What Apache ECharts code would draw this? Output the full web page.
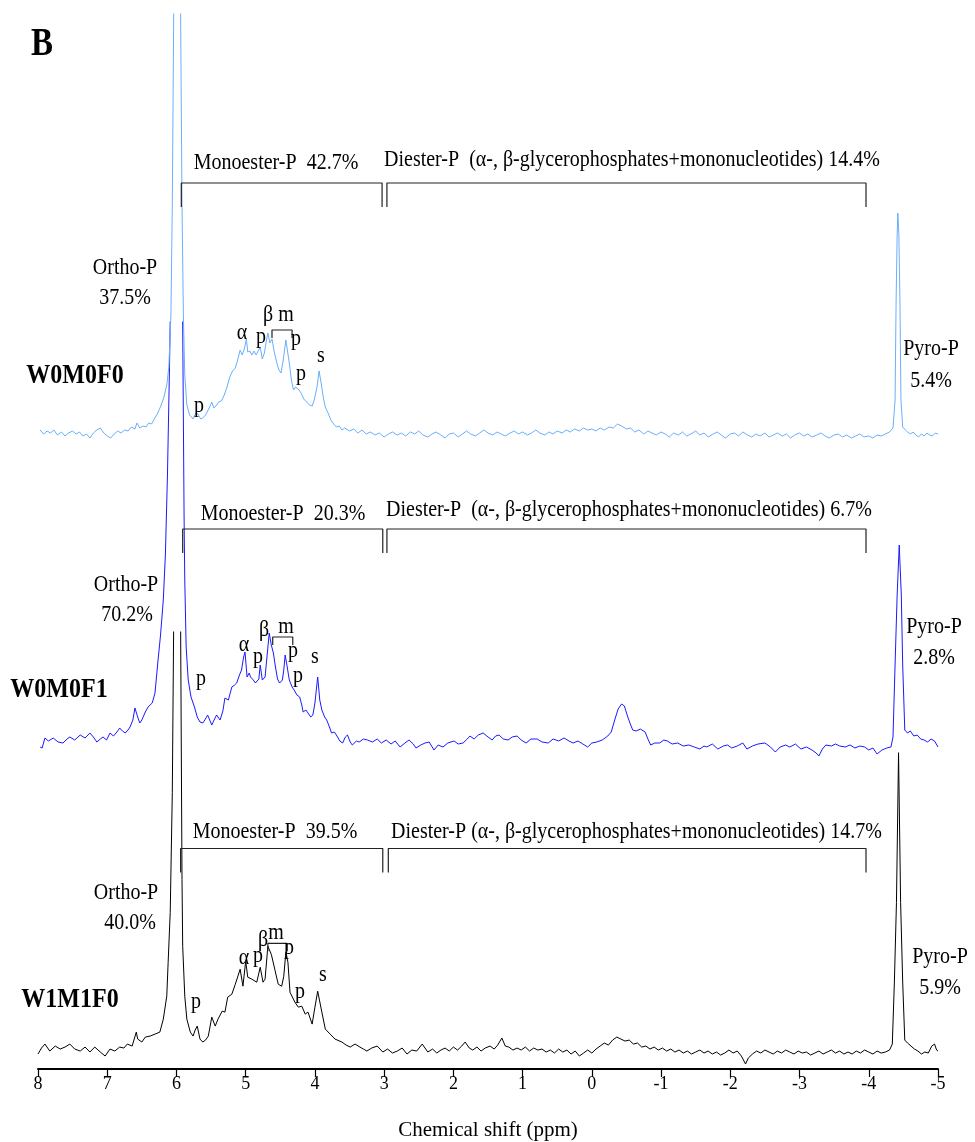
<!DOCTYPE html>
<html>
<head>
<meta charset="utf-8">
<title>31P NMR spectra</title>
<script src="https://cdn.jsdelivr.net/npm/echarts@6.0.0/dist/echarts.min.js"></script>
<style>
  html, body { margin: 0; padding: 0; background: #fff; }
  #chart { width: 975px; height: 1142px; }
</style>
</head>
<body>
<div id="chart"></div>
<script>
// ---- Data: chemical shift (ppm) vs. signal intensity above each baseline ----
const samples = ['W0M0F0', 'W0M0F1', 'W1M1F0'];
const orthoPct = ['37.5%', '70.2%', '40.0%'];
const monoPct = ['42.7%', '20.3%', '39.5%'];
const diesterPct = ['14.4%', '6.7%', '14.7%'];
const pyroPct = ['5.4%', '2.8%', '5.9%'];
const xTickValues = [8, 7, 6, 5, 4, 3, 2, 1, 0, -1, -2, -3, -4, -5];

// integration regions (ppm)
const monoesterRange = [[5.93, 3.03], [5.91, 3.02], [5.94, 3.02]];
const diesterRange = [[2.96, -3.96], [2.96, -3.96], [2.94, -3.96]];
const mononucleotideRange = [[4.62, 4.33], [4.61, 4.32], [4.68, 4.40]];

const spectrumW0M0F0 = [
  [7.97,5],[7.92,1],[7.87,4],[7.82,2],[7.77,5],[7.72,0],[7.66,3],[7.61,-1],[7.56,2],[7.50,4],
  [7.45,1],[7.40,3],[7.35,-1],[7.30,1],[7.25,-3],[7.20,2],[7.15,5],[7.10,7],[7.05,2],[7.00,-1],
  [6.95,-3],[6.90,1],[6.85,4],[6.80,2],[6.75,5],[6.70,4],[6.65,8],[6.60,6],[6.57,12],[6.53,7],
  [6.48,9],[6.44,8],[6.40,12],[6.36,11],[6.32,16],[6.27,22],[6.22,30],[6.18,38],[6.14,50],[6.11,68],
  [6.08,120],[6.06,230],[6.04,420],[5.99,1000],[5.94,420],[5.92,230],[5.90,120],[5.88,60],[5.85,30],
  [5.81,20],[5.76,16],[5.72,22],[5.69,21],[5.65,16],[5.62,17],[5.58,20],[5.55,24],[5.52,28],[5.49,33],
  [5.46,27],[5.43,29],[5.39,33],[5.35,34],[5.31,40],[5.27,48],[5.23,58],[5.19,64],[5.15,67],[5.12,74],
  [5.08,85],[5.05,80],[5.02,86],[4.99,96],[4.97,83],[4.94,84],[4.91,80],[4.88,84],[4.85,80],[4.82,84],
  [4.79,88],[4.76,76],[4.73,82],[4.70,95],[4.68,102],[4.65,92],[4.62,96],[4.59,84],[4.55,72],[4.52,65],
  [4.49,62],[4.46,74],[4.42,95],[4.40,93],[4.37,72],[4.34,55],[4.31,45],[4.28,48],[4.26,50],[4.23,45],
  [4.20,42],[4.16,36],[4.12,33],[4.08,30],[4.04,29],[4.01,35],[3.97,48],[3.94,64],[3.91,52],[3.88,38],
  [3.85,28],[3.81,22],[3.77,15],[3.73,11],[3.69,8],[3.65,9],[3.61,5],
  [3.57,7],[3.50,4],[3.44,6],[3.38,2],[3.32,5],[3.26,1],[3.20,3],[3.13,0],[3.07,2],[3.00,-2],
  [2.94,1],[2.88,3],[2.81,0],[2.75,2],[2.69,-1],[2.62,3],[2.56,1],[2.50,4],[2.44,0],[2.37,-2],
  [2.31,1],[2.25,3],[2.18,0],[2.12,-3],[2.06,1],[2.00,2],[1.93,-2],[1.87,1],[1.81,4],[1.75,1],
  [1.68,-1],[1.62,2],[1.56,5],[1.50,2],[1.43,0],[1.37,3],[1.31,1],[1.25,-1],[1.18,2],[1.12,4],
  [1.06,1],[1.00,3],[0.93,0],[0.87,2],[0.81,5],[0.75,2],[0.68,0],[0.62,3],[0.56,1],[0.50,4],
  [0.43,2],[0.37,5],[0.31,3],[0.25,6],[0.18,4],[0.12,7],[0.06,5],[0.00,6],[-0.06,4],[-0.12,7],
  [-0.18,5],[-0.25,8],[-0.31,7],[-0.37,11],[-0.43,9],[-0.50,6],[-0.56,7],[-0.62,3],[-0.68,5],[-0.75,1],
  [-0.81,4],[-0.87,2],[-0.93,0],[-1.00,3],[-1.06,1],[-1.12,-2],[-1.18,2],[-1.25,0],[-1.31,3],[-1.37,-1],
  [-1.43,1],[-1.50,4],[-1.56,0],[-1.62,2],[-1.68,-2],[-1.75,1],[-1.81,3],[-1.87,0],[-1.93,-3],[-2.00,1],
  [-2.06,2],[-2.12,-1],[-2.18,3],[-2.25,0],[-2.31,-2],[-2.37,1],[-2.43,-1],[-2.50,2],[-2.56,-2],[-2.62,0],
  [-2.68,2],[-2.75,-1],[-2.81,1],[-2.87,-3],[-2.93,0],[-3.00,2],[-3.06,-1],[-3.12,1],[-3.18,-2],[-3.25,0],
  [-3.31,2],[-3.37,-1],[-3.43,-3],[-3.50,0],[-3.56,1],[-3.62,-2],[-3.68,0],[-3.75,-3],[-3.81,-1],[-3.87,1],
  [-3.93,-2],[-4.00,-1],[-4.06,-3],[-4.12,0],[-4.18,-1],[-4.24,1],[-4.30,3],[-4.35,7],[-4.38,35],[-4.395,135],
  [-4.41,200],[-4.42,222],[-4.435,200],[-4.45,135],[-4.465,35],[-4.49,8],[-4.53,5],[-4.56,3],[-4.60,1],[-4.64,3],
  [-4.68,0],[-4.72,-2],[-4.76,1],[-4.80,-1],[-4.84,2],[-4.88,0],[-4.92,-1],[-4.96,2],[-5.00,1]
];

const spectrumW0M0F1 = [
  [7.97,-2],[7.94,-3],[7.90,7],[7.85,4],[7.78,7],[7.71,3],[7.64,2],[7.58,6],[7.54,8],[7.47,5],
  [7.39,10],[7.32,7],[7.25,12],[7.20,8],[7.15,3],[7.10,6],[7.06,8],[7.01,5],[6.96,12],[6.91,9],
  [6.86,13],[6.82,17],[6.78,14],[6.74,12],[6.70,15],[6.67,18],[6.63,25],[6.60,37],[6.56,28],[6.53,22],
  [6.50,25],[6.45,33],[6.41,38],[6.35,42],[6.31,52],[6.27,82],[6.23,110],[6.19,145],[6.16,190],[6.13,270],
  [6.10,380],[6.07,520],[6.03,800],[6.00,1300],[5.97,800],[5.94,560],[5.91,420],[5.89,230],[5.88,165],[5.86,98],
  [5.83,65],[5.79,48],[5.74,38],[5.70,28],[5.66,23],[5.62,22],[5.59,25],[5.55,30],[5.53,32],[5.49,20],
  [5.45,26],[5.42,30],[5.37,25],[5.33,34],[5.30,47],[5.25,45],[5.20,58],[5.16,60],[5.13,62],[5.09,70],
  [5.06,75],[5.03,88],[5.01,93],[4.98,68],[4.95,72],[4.93,68],[4.89,65],[4.86,62],[4.84,60],[4.81,66],
  [4.79,80],[4.76,65],[4.72,68],[4.69,90],[4.66,112],[4.63,100],[4.60,92],[4.57,78],[4.54,66],[4.51,62],
  [4.47,65],[4.45,75],[4.43,90],[4.40,78],[4.37,65],[4.33,58],[4.30,55],[4.26,50],[4.24,52],[4.22,48],
  [4.19,40],[4.17,33],[4.13,35],[4.10,32],[4.06,28],[4.03,30],[4.00,42],[3.96,68],[3.93,45],[3.90,35],
  [3.86,28],[3.83,25],[3.79,18],[3.76,12],[3.72,13],[3.69,10],[3.64,4],[3.60,2],[3.56,8],[3.53,10],
  [3.49,3],[3.46,0],[3.40,4],[3.36,3],[3.30,6],[3.24,5],
  [3.17,3],[3.10,6],[3.04,2],[2.97,5],[2.90,1],[2.84,4],[2.77,-2],[2.70,2],[2.64,5],[2.58,1],
  [2.54,-3],[2.47,0],[2.41,2],[2.35,3],[2.28,-5],[2.22,0],[2.15,-2],[2.08,2],[1.99,4],[1.93,1],
  [1.86,2],[1.80,6],[1.76,9],[1.70,6],[1.64,10],[1.57,12],[1.50,8],[1.44,5],[1.39,9],[1.34,10],
  [1.28,6],[1.21,5],[1.15,8],[1.08,9],[1.02,5],[0.95,2],[0.88,6],[0.79,6],[0.72,3],[0.63,2],
  [0.56,6],[0.48,4],[0.40,7],[0.33,4],[0.27,2],[0.20,4],[0.13,1],[0.06,-2],[0.00,2],[-0.07,3],
  [-0.15,5],[-0.23,9],[-0.28,13],[-0.33,25],[-0.38,36],[-0.43,41],[-0.47,39],[-0.51,30],[-0.55,22],[-0.59,15],
  [-0.64,14],[-0.70,16],[-0.77,13],[-0.81,6],[-0.85,0],[-0.91,2],[-0.98,2],[-1.04,5],[-1.09,4],[-1.16,1],
  [-1.24,2],[-1.32,-1],[-1.40,0],[-1.48,-2],[-1.56,-4],[-1.62,-1],[-1.66,-2],[-1.74,1],[-1.82,-4],[-1.90,-1],
  [-1.96,0],[-2.02,-3],[-2.10,-1],[-2.18,2],[-2.24,-4],[-2.32,-1],[-2.40,1],[-2.50,2],[-2.58,-2],[-2.65,-7],
  [-2.72,-2],[-2.80,0],[-2.86,-2],[-2.94,1],[-3.02,-4],[-3.10,-2],[-3.18,-5],[-3.24,-8],[-3.28,-11],[-3.33,-4],
  [-3.38,0],[-3.46,-1],[-3.52,1],[-3.58,-1],[-3.66,-2],[-3.73,0],[-3.80,-3],[-3.87,-1],[-3.94,-2],[-4.00,-5],
  [-4.06,-3],[-4.12,-9],[-4.19,-5],[-4.26,-3],[-4.32,-2],[-4.35,8],[-4.38,80],[-4.41,150],[-4.44,200],[-4.47,150],
  [-4.49,80],[-4.52,15],[-4.56,12],[-4.60,14],[-4.65,9],[-4.70,10],[-4.75,6],[-4.80,5],[-4.85,3],[-4.90,6],
  [-4.95,4],[-5.00,-2]
];

const spectrumW1M1F0 = [
  [8.00,-2],[7.95,4],[7.90,8],[7.83,1],[7.75,6],[7.68,3],[7.61,5],[7.54,8],[7.47,3],[7.39,1],
  [7.32,5],[7.25,0],[7.18,5],[7.10,0],[7.03,-4],[6.96,3],[6.89,1],[6.82,5],[6.76,4],[6.71,8],
  [6.64,6],[6.58,20],[6.56,13],[6.50,10],[6.45,15],[6.38,16],[6.31,18],[6.24,20],[6.19,33],[6.14,56],
  [6.12,90],[6.09,140],[6.06,260],[6.04,430],[5.99,1000],[5.94,430],[5.92,173],[5.91,106],[5.88,56],[5.85,33],
  [5.80,20],[5.76,16],[5.73,22],[5.70,26],[5.66,13],[5.62,10],[5.58,12],[5.54,16],[5.49,35],[5.44,26],
  [5.40,33],[5.34,41],[5.30,40],[5.26,55],[5.20,58],[5.15,68],[5.08,83],[5.04,66],[5.00,91],[4.97,75],
  [4.91,73],[4.84,70],[4.79,85],[4.75,70],[4.72,73],[4.68,106],[4.63,98],[4.61,100],[4.58,83],[4.53,68],
  [4.48,66],[4.45,76],[4.42,100],[4.39,90],[4.36,60],[4.29,50],[4.24,45],[4.19,46],[4.14,38],[4.10,40],
  [4.04,28],[4.00,45],[3.96,61],[3.90,40],[3.85,23],[3.78,18],[3.71,13],[3.61,10],[3.55,7],[3.49,5],
  [3.42,8],[3.35,5],[3.30,3],[3.25,1],[3.18,4],[3.10,6],[3.02,0],[2.95,3],[2.88,-1],[2.81,1],
  [2.74,4],[2.67,-2],[2.60,2],[2.53,1],[2.45,8],[2.37,0],
  [2.30,3],[2.24,-1],[2.18,2],[2.12,4],[2.06,1],[2.00,5],[1.94,2],[1.88,6],[1.83,10],[1.77,4],
  [1.72,2],[1.66,5],[1.60,1],[1.54,4],[1.47,6],[1.41,3],[1.36,7],[1.30,14],[1.25,6],[1.20,5],
  [1.14,2],[1.08,4],[1.02,2],[0.96,5],[0.90,1],[0.84,4],[0.78,2],[0.72,3],[0.66,0],[0.60,2],
  [0.54,-1],[0.48,3],[0.42,0],[0.36,2],[0.30,-2],[0.24,1],[0.18,-4],[0.12,-1],[0.06,2],[0.00,-1],
  [-0.06,3],[-0.12,6],[-0.18,9],[-0.24,7],[-0.30,12],[-0.36,15],[-0.42,13],[-0.48,11],[-0.54,12],[-0.60,8],
  [-0.66,9],[-0.72,5],[-0.78,6],[-0.84,3],[-0.90,5],[-0.96,2],[-1.02,4],[-1.08,1],[-1.14,3],[-1.20,0],
  [-1.26,2],[-1.32,-1],[-1.38,1],[-1.44,-2],[-1.50,0],[-1.56,2],[-1.62,-1],[-1.68,1],[-1.74,-2],[-1.80,0],
  [-1.86,-3],[-1.92,-1],[-1.98,2],[-2.04,-1],[-2.10,1],[-2.16,-4],[-2.22,-12],[-2.26,-6],[-2.32,-2],[-2.38,1],
  [-2.44,-1],[-2.50,2],[-2.56,0],[-2.62,-2],[-2.68,1],[-2.74,-1],[-2.80,2],[-2.86,0],[-2.92,-2],[-2.98,1],
  [-3.04,-1],[-3.10,0],[-3.16,-3],[-3.22,-1],[-3.28,1],[-3.34,-2],[-3.40,0],[-3.46,2],[-3.52,-1],[-3.58,1],
  [-3.64,-2],[-3.70,0],[-3.76,-2],[-3.82,1],[-3.88,-1],[-3.94,2],[-4.00,0],[-4.06,-2],[-4.12,1],[-4.18,-1],
  [-4.24,0],[-4.30,2],[-4.34,8],[-4.37,70],[-4.40,150],[-4.43,300],[-4.46,150],[-4.49,70],[-4.52,12],[-4.56,9],
  [-4.61,6],[-4.66,3],[-4.71,1],[-4.76,-2],[-4.81,0],[-4.86,-1],[-4.91,6],[-4.95,8],[-4.98,2],[-5.00,1]
];

const spectra = [spectrumW0M0F0, spectrumW0M0F1, spectrumW1M1F0];

// ---- Layout / style ----
const FONT = '"Liberation Serif", "Times New Roman", serif';
const colors = ['#6aaefc', '#1a1aff', '#000000'];
// each panel: its own grid; y range is [baseline offset below, clip height above]
const panels = [
  { top: 14,  height: 446, yMin: -25, yMax: 421, bracketY: 252, mBracketY: 105 },
  { top: 322, height: 448, yMin: -25, yMax: 423, bracketY: 216, mBracketY: 108 },
  { top: 632, height: 438, yMin: -17, yMax: 421, bracketY: 204, mBracketY: 109 }
];

const grids = panels.map(p => ({ left: 38, right: 37, top: p.top, height: p.height, containLabel: false }));

const xAxes = panels.map((p, i) => {
  const last = i === panels.length - 1;
  return {
    gridIndex: i, type: 'value', min: -5, max: 8, interval: 1, inverse: true,
    show: last,
    axisLine: { show: true, onZero: false, lineStyle: { color: '#000', width: 2 } },
    axisTick: { show: true, length: 8, lineStyle: { color: '#000', width: 1.2 },
                customValues: xTickValues },
    axisLabel: { color: '#000', fontSize: 18, fontFamily: FONT, margin: 6,
                 customValues: xTickValues },
    splitLine: { show: false },
    name: last ? 'Chemical shift (ppm)' : '',
    nameLocation: 'middle', nameGap: 51,
    nameTextStyle: { color: '#000', fontSize: 21, fontFamily: FONT }
  };
});

const yAxes = panels.map((p, i) => ({
  gridIndex: i, type: 'value', min: p.yMin, max: p.yMax, show: false, splitLine: { show: false }
}));

const series = [];
// spectra (bottom panel first so upper traces sit on top)
[2, 1, 0].forEach(i => {
  series.push({
    type: 'line', name: samples[i], xAxisIndex: i, yAxisIndex: i,
    data: spectra[i], showSymbol: false, symbol: 'none', clip: true,
    lineStyle: { color: colors[i], width: 1 }, z: 2 + (2 - i), silent: true
  });
});

// integration brackets
function bracket(i, range, level, drop, width) {
  return {
    type: 'line', xAxisIndex: i, yAxisIndex: i, showSymbol: false, symbol: 'none',
    clip: false, silent: true, z: 6,
    data: [[range[0], level - drop], [range[0], level], [range[1], level], [range[1], level - drop]],
    lineStyle: { color: '#222', width: width }
  };
}
panels.forEach((p, i) => {
  series.push(bracket(i, monoesterRange[i], p.bracketY, 24, 1.2));
  series.push(bracket(i, diesterRange[i], p.bracketY, 24, 1.2));
  series.push(bracket(i, mononucleotideRange[i], p.mBracketY, 8, 1.2));
});

// ---- Text annotations (Times-style type, slightly tall) ----
function txt(x, y, text, opt) {
  opt = opt || {};
  const size = opt.size || 20;
  const weight = opt.bold ? 'bold ' : '';
  const align = opt.align || 'center';
  return {
    type: 'text', x: x, y: y, z: 50, scaleY: opt.scaleY || 1.12,
    style: {
      text: text, fill: '#000', font: weight + size + 'px ' + FONT,
      textAlign: align, textVerticalAlign: 'middle', align: align, verticalAlign: 'middle'
    }
  };
}

const annotations = [
  txt(42, 45, 'B', { size: 33, bold: true, scaleY: 1.2 }),
  // W0M0F0
  txt(125, 268, 'Ortho-P'), txt(125, 298, orthoPct[0]),
  txt(75, 376, samples[0], { size: 24, bold: true }),
  txt(242, 333, 'α'), txt(261, 337, 'p'), txt(268, 315, 'β'), txt(286, 315, 'm'),
  txt(296, 339, 'p'), txt(301, 374, 'p'), txt(321, 356, 's'), txt(199, 406, 'p'),
  txt(276, 163, 'Monoester-P  ' + monoPct[0]),
  txt(384, 160, 'Diester-P  (α-, β-glycerophosphates+mononucleotides) ' + diesterPct[0], { align: 'left' }),
  txt(931, 349, 'Pyro-P'), txt(931, 381, pyroPct[0]),
  // W0M0F1
  txt(126, 585, 'Ortho-P'), txt(127, 615, orthoPct[1]),
  txt(59, 690, samples[1], { size: 24, bold: true }),
  txt(244, 645, 'α'), txt(258, 657, 'p'), txt(264, 630, 'β'), txt(286, 627, 'm'),
  txt(293, 651, 'p'), txt(298, 676, 'p'), txt(315, 657, 's'), txt(201, 679, 'p'),
  txt(283, 514, 'Monoester-P  ' + monoPct[1]),
  txt(386, 510, 'Diester-P  (α-, β-glycerophosphates+mononucleotides) ' + diesterPct[1], { align: 'left' }),
  txt(934, 627, 'Pyro-P'), txt(934, 658, pyroPct[1]),
  // W1M1F0
  txt(126, 893, 'Ortho-P'), txt(130, 923, orthoPct[2]),
  txt(70, 1000, samples[2], { size: 24, bold: true }),
  txt(244, 958, 'α'), txt(258, 956, 'p'), txt(263, 940, 'β'), txt(276, 933, 'm'),
  txt(289, 948, 'p'), txt(300, 992, 'p'), txt(323, 975, 's'), txt(196, 1002, 'p'),
  txt(275, 832, 'Monoester-P  ' + monoPct[2]),
  txt(391, 832, 'Diester-P (α-, β-glycerophosphates+mononucleotides) ' + diesterPct[2], { align: 'left' }),
  txt(940, 957, 'Pyro-P'), txt(940, 988, pyroPct[2])
];

const chart = echarts.init(document.getElementById('chart'), null, { renderer: 'canvas' });
chart.setOption({
  backgroundColor: '#ffffff',
  animation: false,
  grid: grids,
  xAxis: xAxes,
  yAxis: yAxes,
  series: series,
  graphic: annotations
});
</script>
</body>
</html>
